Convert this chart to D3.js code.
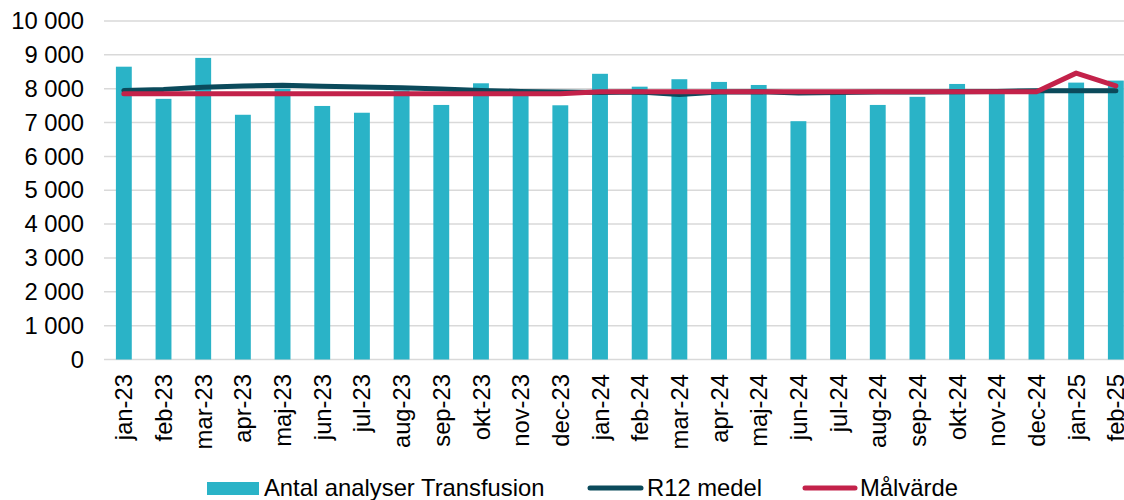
<!DOCTYPE html>
<html>
<head>
<meta charset="utf-8">
<script src="https://cdn.jsdelivr.net/npm/d3@7"></script>
<style>
  html, body { margin: 0; padding: 0; background: #fff; overflow: hidden; }
  svg { display: block; font-family: "Liberation Sans", Arial, sans-serif; }
</style>
</head>
<body>
<div id="chart"></div>
<script>
// data
const months = ['jan-23', 'feb-23', 'mar-23', 'apr-23', 'maj-23', 'jun-23', 'jul-23', 'aug-23', 'sep-23', 'okt-23', 'nov-23', 'dec-23',
  'jan-24', 'feb-24', 'mar-24', 'apr-24', 'maj-24', 'jun-24', 'jul-24', 'aug-24', 'sep-24', 'okt-24', 'nov-24', 'dec-24',
  'jan-25', 'feb-25'];
const antal = [8650, 7700, 8910, 7230, 8000, 7490, 7290, 7950, 7520, 8160, 7850, 7510,
  8440, 8060, 8280, 8200, 8110, 7040, 7880, 7520, 7760, 8140, 7900, 7950,
  8180, 8240];
const r12 = [7950, 7980, 8040, 8080, 8100, 8070, 8050, 8030, 7990, 7950, 7920, 7900,
  7890, 7900, 7830, 7900, 7910, 7870, 7890, 7900, 7900, 7910, 7920, 7940,
  7940, 7940];
const malvarde = [7850, 7850, 7850, 7850, 7850, 7850, 7850, 7850, 7850, 7850, 7850, 7850,
  7910, 7910, 7910, 7910, 7910, 7910, 7910, 7910, 7910, 7910, 7910, 7910,
  8460, 8080];
const yTicks = [0, 1000, 2000, 3000, 4000, 5000, 6000, 7000, 8000, 9000, 10000];

const colors = {bar: '#2AB3C7', r12: '#0B4A5B', mal: '#C3224A', grid: '#D9D9D9'};
const width = 1124;
const height = 500;
const fontSize = 23.8;

const svg = d3.select('#chart').append('svg')
  .attr('width', width)
  .attr('height', height);

// plot runs past the right edge, like the original
const x = d3.scaleBand()
  .domain(months)
  .range([104, 104 + 26 * 39.68])
  .paddingInner(0.6)
  .paddingOuter(0.3);

const y = d3.scaleLinear()
  .domain([0, 10000])
  .range([359.5, 21]);

const fmt = d3.formatLocale({decimal: ',', thousands: ' ', grouping: [3], currency: ['', ' kr']}).format(',d');

const cx = function (d) {
  return x(d) + x.bandwidth() / 2;
};

// gridlines
svg.append('g')
  .selectAll('line')
  .data(yTicks)
  .enter()
  .append('line')
  .attr('x1', 104)
  .attr('x2', width)
  .attr('y1', function (d) { return y(d); })
  .attr('y2', function (d) { return y(d); })
  .attr('stroke', colors.grid)
  .attr('stroke-width', 1.5);

// y labels
const yAxis = svg.append('g')
  .attr('transform', 'translate(84,0)')
  .call(d3.axisLeft(y).tickValues(yTicks).tickFormat(fmt).tickSize(0).tickPadding(0));
yAxis.select('.domain').remove();
yAxis.selectAll('text')
  .attr('font-size', fontSize)
  .attr('font-family', '"Liberation Sans", Arial, sans-serif')
  .attr('fill', '#000');

// bars
svg.append('g')
  .selectAll('rect')
  .data(antal)
  .enter()
  .append('rect')
  .attr('x', function (d, i) { return x(months[i]); })
  .attr('y', function (d) { return y(d); })
  .attr('width', x.bandwidth())
  .attr('height', function (d) { return y(0) - y(d); })
  .attr('fill', colors.bar);

// x labels
svg.append('g')
  .selectAll('text')
  .data(months)
  .enter()
  .append('text')
  .attr('transform', function (d) { return `translate(${cx(d)},374) rotate(-90)`; })
  .attr('dy', '0.36em')
  .attr('text-anchor', 'end')
  .attr('font-size', fontSize)
  .attr('fill', '#000')
  .text(function (d) { return d; });

// lines
const line = function (values) {
  return d3.line()
    .x(function (d, i) { return cx(months[i]); })
    .y(function (d) { return y(d); })(values);
};

svg.append('path')
  .attr('d', line(r12))
  .attr('fill', 'none')
  .attr('stroke', colors.r12)
  .attr('stroke-width', 5)
  .attr('stroke-linecap', 'round')
  .attr('stroke-linejoin', 'round');

svg.append('path')
  .attr('d', line(malvarde))
  .attr('fill', 'none')
  .attr('stroke', colors.mal)
  .attr('stroke-width', 5)
  .attr('stroke-linecap', 'round')
  .attr('stroke-linejoin', 'round');

// legend
const legend = svg.append('g').attr('font-size', fontSize).attr('fill', '#000');

legend.append('rect')
  .attr('x', 207).attr('y', 482)
  .attr('width', 52).attr('height', 13)
  .attr('fill', colors.bar);
legend.append('text').attr('x', 264).attr('y', 496).text('Antal analyser Transfusion');

legend.append('line')
  .attr('x1', 590).attr('x2', 641).attr('y1', 488).attr('y2', 488)
  .attr('stroke', colors.r12).attr('stroke-width', 5).attr('stroke-linecap', 'round');
legend.append('text').attr('x', 647).attr('y', 496).text('R12 medel');

legend.append('line')
  .attr('x1', 805).attr('x2', 855).attr('y1', 488).attr('y2', 488)
  .attr('stroke', colors.mal).attr('stroke-width', 5).attr('stroke-linecap', 'round');
legend.append('text').attr('x', 860).attr('y', 496).text('Målvärde');
</script>
</body>
</html>
